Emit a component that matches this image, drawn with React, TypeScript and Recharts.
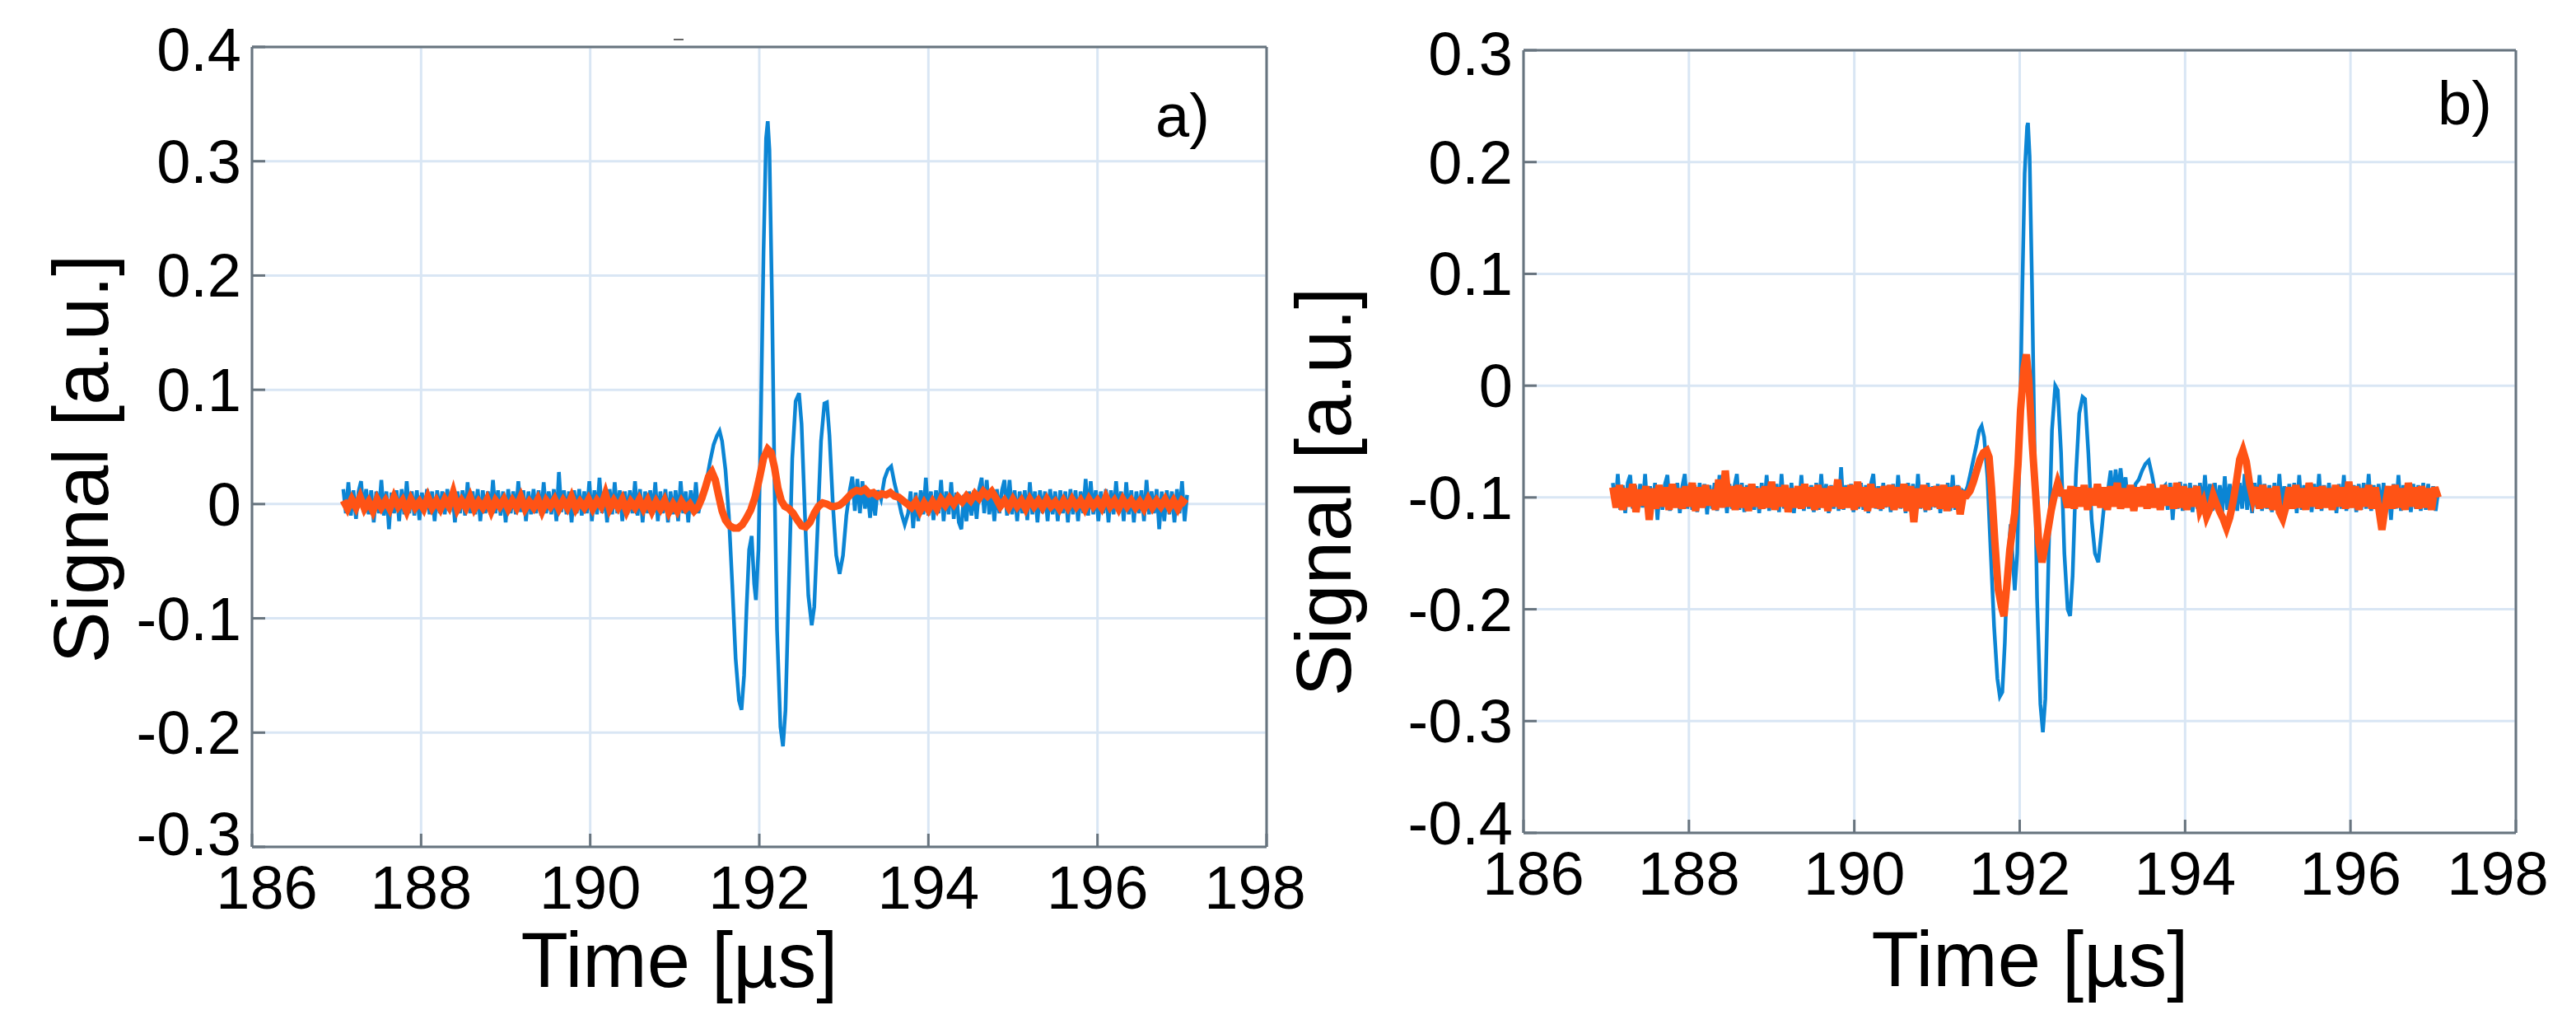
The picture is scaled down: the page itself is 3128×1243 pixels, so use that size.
import React from 'react';
import { LineChart, Line, XAxis, YAxis, CartesianGrid } from 'recharts';

const FONT = "'Liberation Sans', Arial, Helvetica, sans-serif";
const FRAME = '#68747e';
const GRID = '#d9e6f4';
const BLUE = '#0b85d4';
const ORANGE = '#ff5315';
const TICK_FS = 74;
const TITLE_FS = 94;

// ---------- axis ticks ----------
const timeTicks = [186, 188, 190, 192, 194, 196, 198];
const signalTicksA = [-0.3, -0.2, -0.1, 0, 0.1, 0.2, 0.3, 0.4];
const signalTicksB = [-0.4, -0.3, -0.2, -0.1, 0, 0.1, 0.2, 0.3];

// ---------- panel a) ----------
// blue, quiet part before the burst (sampled every 0.03 µs from 187.08 µs)
const blueAPre = [
  0.013, -0.008, 0.019, -0.010, 0.012, -0.013, 0.011, 0.020, -0.007, 0.013, -0.009, 0.012, -0.016, 0.011, -0.008, 0.021, -0.010, 0.011, -0.022, 0.010,
  -0.008, 0.012, -0.015, 0.013, -0.009, 0.020, -0.008, 0.011, -0.010, 0.012, -0.014, 0.010, -0.007, 0.013, -0.009, 0.011, -0.015, 0.012, -0.008, 0.011,
  -0.009, 0.013, -0.007, 0.012, -0.016, 0.011, -0.008, 0.012, -0.010, 0.019, -0.008, 0.011, -0.009, 0.013, -0.015, 0.012, -0.008, 0.011, -0.009, 0.021,
  -0.008, 0.012, -0.010, 0.011, -0.016, 0.013, -0.008, 0.011, -0.009, 0.020, -0.007, 0.012, -0.015, 0.011, -0.009, 0.013, -0.008, 0.012, -0.010, 0.019,
  -0.008, 0.011, -0.009, 0.013, -0.015, 0.028, -0.007, 0.012, -0.009, 0.011, -0.016, 0.012, -0.008, 0.013, -0.010, 0.011, -0.008, 0.020, -0.015, 0.012,
  -0.009, 0.023, -0.008, 0.011, -0.016, 0.013, -0.009, 0.019, -0.008, 0.012, -0.015, 0.011, -0.009, 0.012, -0.008, 0.020, -0.010, 0.013, -0.016, 0.011,
  -0.008, 0.012, -0.009, 0.019, -0.015, 0.011, -0.008, 0.013, -0.016, 0.011, -0.009, 0.012, -0.015, 0.020, -0.008, 0.011, -0.016, 0.012, -0.009, 0.019, -0.008,
];
const blueABurstT = [
  191.31, 191.34, 191.38, 191.42, 191.46, 191.5, 191.53, 191.56, 191.6, 191.64, 191.68, 191.72, 191.76, 191.79, 191.82, 191.85, 191.88, 191.91, 191.94, 191.96,
  191.99, 192.02, 192.05, 192.08, 192.1, 192.12, 192.15, 192.18, 192.21, 192.25, 192.28, 192.31, 192.35, 192.39, 192.43, 192.47, 192.5, 192.54, 192.58, 192.62,
  192.65, 192.69, 192.73, 192.77, 192.8, 192.83, 192.87, 192.91, 192.95, 192.99, 193.03, 193.07, 193.1, 193.13, 193.16, 193.19, 193.22, 193.25, 193.28, 193.31,
  193.34, 193.37, 193.4, 193.44, 193.48, 193.52, 193.56, 193.6, 193.64, 193.68, 193.72,
];
const blueABurstV = [
  0.004, 0.010, 0.022, 0.038, 0.052, 0.060, 0.064, 0.055, 0.030, -0.010, -0.070, -0.135, -0.172, -0.180, -0.150, -0.090, -0.040, -0.028, -0.070, -0.084,
  -0.040, 0.080, 0.220, 0.320, 0.335, 0.310, 0.180, 0.020, -0.110, -0.195, -0.212, -0.180, -0.070, 0.040, 0.090, 0.097, 0.070, -0.010, -0.080, -0.106,
  -0.090, -0.020, 0.055, 0.088, 0.089, 0.060, 0.000, -0.045, -0.061, -0.045, -0.010, 0.012, 0.024, -0.006, 0.022, -0.008, 0.020, -0.004, 0.012, -0.012,
  0.010, -0.010, 0.012, 0.004, 0.022, 0.030, 0.033, 0.018, 0.006, -0.008, -0.018,
];
// blue, quiet part after the burst (every 0.03 µs from 193.76 µs)
const blueAPost = [
  -0.008, 0.011, -0.021, 0.010, -0.015, 0.012, -0.009, 0.023, -0.010, 0.011, -0.014, 0.012, -0.008, 0.021, -0.015, 0.011, -0.009, 0.019, -0.013, 0.010,
  -0.016, -0.022, 0.008, -0.015, 0.011, -0.010, 0.012, -0.013, 0.013, 0.023, -0.008, 0.021, -0.009, 0.011, -0.015, 0.013, -0.008, 0.012, 0.021, -0.010,
  0.021, -0.009, 0.012, -0.015, 0.011, -0.008, 0.012, -0.014, 0.019, -0.009, 0.011, -0.016, 0.012, -0.008, 0.011, -0.015, 0.013, -0.009, 0.011, -0.015,
  0.012, -0.008, 0.011, -0.016, 0.013, -0.009, 0.012, -0.015, 0.011, -0.008, 0.022, -0.010, 0.020, -0.009, 0.012, -0.015, 0.011, -0.008, 0.013, -0.016,
  0.012, -0.009, 0.020, -0.008, 0.011, -0.015, 0.019, -0.009, 0.012, -0.016, 0.011, -0.008, 0.012, -0.015, 0.021, -0.009, 0.011, -0.008, 0.013, -0.022,
  0.011, -0.015, 0.012, -0.009, 0.011, -0.016, 0.013, -0.008, 0.020, -0.015, 0.008,
];
// orange, before the burst (every 0.05 µs from 187.08 µs)
const orangeAPre = [
  0.003, -0.004, 0.004, -0.003, 0.006, -0.004, 0.002, -0.006, 0.004, -0.003, 0.003, -0.004, 0.006, -0.002, 0.003, -0.006, 0.004, -0.003, 0.002, -0.004,
  0.006, -0.003, 0.003, -0.004, 0.004, -0.002, 0.010, -0.004, 0.003, -0.003, 0.006, -0.004, 0.002, -0.003, 0.004, -0.006, 0.003, -0.002, 0.004, -0.004,
  0.003, -0.003, 0.006, -0.004, 0.002, -0.003, 0.004, -0.006, 0.003, -0.002, 0.004, -0.004, 0.003, -0.003, 0.006, -0.004, 0.002, -0.003, 0.004, -0.004,
  0.003, -0.002, 0.009, -0.004, 0.003, -0.003, 0.004, -0.006, 0.002, -0.003, 0.004, -0.004, 0.003, -0.006, 0.002, -0.004, 0.003, -0.007, 0.000, -0.006,
  0.002, -0.004, 0.000, -0.006, -0.002,
];
const orangeABurstT = [
  191.32, 191.36, 191.4, 191.44, 191.48, 191.52, 191.56, 191.6, 191.65, 191.7, 191.75, 191.8, 191.85, 191.9, 191.95, 192.0, 192.05, 192.1, 192.14, 192.18,
  192.22, 192.26, 192.3, 192.35, 192.4, 192.45, 192.5, 192.55, 192.6, 192.65, 192.7, 192.75, 192.8, 192.85, 192.9, 192.95, 193.0, 193.05, 193.1, 193.15,
  193.2, 193.25, 193.3, 193.35, 193.4, 193.45, 193.5, 193.55, 193.6, 193.65, 193.7, 193.75,
];
const orangeABurstV = [
  0.005, 0.014, 0.024, 0.028, 0.021, 0.007, -0.006, -0.014, -0.019, -0.021, -0.021, -0.018, -0.012, -0.005, 0.006, 0.022, 0.040, 0.048, 0.045, 0.032,
  0.014, 0.003, -0.002, -0.004, -0.008, -0.014, -0.019, -0.020, -0.016, -0.008, -0.002, 0.001, 0.000, -0.002, -0.002, -0.001, 0.002, 0.006, 0.010, 0.012,
  0.011, 0.013, 0.009, 0.010, 0.007, 0.009, 0.008, 0.010, 0.007, 0.006, 0.003, 0.000,
];
// orange, after the burst (every 0.05 µs from 193.80 µs)
const orangeAPost = [
  -0.003, 0.002, -0.006, 0.001, -0.005, 0.002, -0.004, 0.004, -0.001, 0.005, 0.000, 0.006, 0.002, 0.007, 0.003, 0.009, 0.005, 0.011, 0.007, 0.011,
  0.005, -0.002, 0.003, -0.003, 0.004, -0.002, 0.003, -0.004, 0.004, -0.002, 0.003, -0.003, 0.004, -0.002, 0.002, -0.004, 0.003, -0.003, 0.004, -0.002,
  0.003, -0.004, 0.004, -0.002, 0.003, -0.003, 0.006, -0.002, 0.003, -0.004, 0.004, -0.002, 0.003, -0.003, 0.002, -0.004, 0.004, -0.003, 0.003, -0.002,
  0.004, -0.003, 0.003, -0.004, 0.003, 0.000,
];

// ---------- panel b) ----------
// blue, before the burst (every 0.03 µs from 187.08 µs)
const blueBPre = [
  -0.087, -0.109, -0.079, -0.111, -0.089, -0.114, -0.087, -0.080, -0.110, -0.089, -0.112, -0.088, -0.109, -0.079, -0.113, -0.090, -0.110, -0.087, -0.120, -0.089,
  -0.111, -0.088, -0.080, -0.112, -0.089, -0.109, -0.087, -0.114, -0.090, -0.079, -0.110, -0.088, -0.111, -0.089, -0.113, -0.087, -0.109, -0.088, -0.115, -0.089,
  -0.110, -0.087, -0.112, -0.080, -0.109, -0.089, -0.114, -0.088, -0.110, -0.090, -0.079, -0.111, -0.087, -0.113, -0.089, -0.109, -0.088, -0.111, -0.090, -0.114,
  -0.087, -0.110, -0.080, -0.112, -0.089, -0.109, -0.088, -0.113, -0.079, -0.110, -0.089, -0.111, -0.087, -0.114, -0.090, -0.109, -0.080, -0.112, -0.088, -0.110,
  -0.089, -0.113, -0.087, -0.111, -0.079, -0.109, -0.088, -0.114, -0.089, -0.110, -0.087, -0.112, -0.073, -0.111, -0.089, -0.109, -0.088, -0.113, -0.090, -0.110,
  -0.087, -0.111, -0.089, -0.114, -0.088, -0.079, -0.110, -0.090, -0.112, -0.087, -0.109, -0.089, -0.113, -0.088, -0.111, -0.080, -0.110, -0.089, -0.114, -0.087,
  -0.109, -0.088, -0.112, -0.079, -0.110, -0.089, -0.113, -0.087, -0.111, -0.090, -0.109, -0.088, -0.114, -0.089, -0.110, -0.087, -0.112, -0.080, -0.111, -0.089,
  -0.109, -0.094,
];
const blueBBurstT = [
  191.34, 191.37, 191.4, 191.44, 191.48, 191.51, 191.54, 191.57, 191.61, 191.65, 191.69, 191.73, 191.76, 191.79, 191.82, 191.85, 191.89, 191.92, 191.94, 191.97,
  192.0, 192.03, 192.06, 192.09, 192.1, 192.12, 192.15, 192.18, 192.21, 192.25, 192.28, 192.31, 192.35, 192.39, 192.43, 192.46, 192.5, 192.54, 192.58, 192.61,
  192.64, 192.68, 192.72, 192.76, 192.79, 192.83, 192.87, 192.91, 192.95, 192.99, 193.03, 193.07, 193.1, 193.13, 193.16, 193.19, 193.22, 193.25, 193.28, 193.31,
  193.34, 193.37, 193.4, 193.44, 193.48, 193.52, 193.56, 193.6, 193.64, 193.68, 193.72,
];
const blueBBurstV = [
  -0.096, -0.090, -0.080, -0.066, -0.052, -0.040, -0.036, -0.046, -0.082, -0.150, -0.215, -0.262, -0.278, -0.274, -0.230, -0.165, -0.124, -0.160, -0.183, -0.150,
  -0.050, 0.080, 0.190, 0.232, 0.235, 0.205, 0.085, -0.060, -0.190, -0.285, -0.310, -0.280, -0.150, -0.040, 0.000, -0.004, -0.060, -0.150, -0.200, -0.206,
  -0.170, -0.080, -0.025, -0.010, -0.012, -0.060, -0.120, -0.150, -0.158, -0.130, -0.100, -0.092, -0.076, -0.104, -0.075, -0.098, -0.074, -0.096, -0.082, -0.106,
  -0.090, -0.108, -0.088, -0.084, -0.076, -0.070, -0.067, -0.080, -0.096, -0.108, -0.092,
];
// blue, after the burst (every 0.03 µs from 193.76 µs)
const blueBPost = [
  -0.089, -0.111, -0.087, -0.120, -0.090, -0.110, -0.086, -0.112, -0.088, -0.109, -0.087, -0.113, -0.089, -0.110, -0.087, -0.111, -0.080, -0.109, -0.088, -0.112,
  -0.087, -0.110, -0.089, -0.113, -0.081, -0.111, -0.088, -0.109, -0.090, -0.112, -0.087, -0.110, -0.079, -0.111, -0.089, -0.114, -0.087, -0.109, -0.080, -0.112,
  -0.088, -0.110, -0.089, -0.113, -0.087, -0.111, -0.079, -0.109, -0.090, -0.112, -0.088, -0.110, -0.087, -0.114, -0.080, -0.111, -0.089, -0.109, -0.087, -0.113,
  -0.088, -0.110, -0.079, -0.112, -0.089, -0.109, -0.087, -0.111, -0.090, -0.114, -0.088, -0.110, -0.080, -0.112, -0.087, -0.109, -0.089, -0.113, -0.088, -0.111,
  -0.087, -0.110, -0.079, -0.112, -0.089, -0.109, -0.088, -0.113, -0.087, -0.111, -0.090, -0.120, -0.088, -0.110, -0.080, -0.112, -0.089, -0.109, -0.087, -0.113,
  -0.088, -0.110, -0.089, -0.112, -0.087, -0.111, -0.088, -0.109, -0.090, -0.112, -0.095,
];
// orange, before the burst (every 0.04 µs from 187.08 µs)
const orangeBPre = [
  -0.091, -0.109, -0.089, -0.111, -0.092, -0.108, -0.088, -0.113, -0.093, -0.107, -0.090, -0.120, -0.092, -0.110, -0.089, -0.108, -0.091, -0.111, -0.088, -0.109,
  -0.092, -0.110, -0.090, -0.108, -0.087, -0.112, -0.091, -0.109, -0.089, -0.107, -0.093, -0.111, -0.084, -0.109, -0.076, -0.108, -0.090, -0.111, -0.089, -0.109,
  -0.091, -0.112, -0.088, -0.108, -0.092, -0.110, -0.090, -0.109, -0.086, -0.111, -0.091, -0.108, -0.089, -0.113, -0.092, -0.109, -0.090, -0.110, -0.088, -0.108,
  -0.091, -0.111, -0.089, -0.109, -0.092, -0.112, -0.090, -0.108, -0.084, -0.110, -0.091, -0.109, -0.089, -0.111, -0.086, -0.108, -0.091, -0.112, -0.088, -0.109,
  -0.092, -0.110, -0.090, -0.108, -0.089, -0.111, -0.091, -0.109, -0.088, -0.112, -0.090, -0.122, -0.092, -0.109, -0.089, -0.111, -0.091, -0.108, -0.090, -0.110,
  -0.089, -0.112, -0.091, -0.109, -0.090, -0.115, -0.097,
];
const orangeBBurstT = [
  191.36, 191.4, 191.44, 191.48, 191.52, 191.56, 191.6, 191.63, 191.66, 191.7, 191.74, 191.78, 191.81, 191.84, 191.88, 191.91, 191.94, 191.98, 192.01, 192.05,
  192.08, 192.11, 192.15, 192.19, 192.23, 192.27, 192.3, 192.34, 192.38, 192.42, 192.46, 192.5,
];
const orangeBBurstV = [
  -0.098, -0.094, -0.086, -0.076, -0.066, -0.060, -0.058, -0.064, -0.092, -0.140, -0.182, -0.198, -0.206, -0.182, -0.147, -0.130, -0.114, -0.070, -0.022, 0.015,
  0.028, 0.005, -0.050, -0.094, -0.140, -0.158, -0.146, -0.130, -0.112, -0.098, -0.087, -0.096,
];
// orange, after the burst (every 0.04 µs from 192.54 µs)
const orangeBPost = [
  -0.096, -0.109, -0.090, -0.110, -0.091, -0.108, -0.089, -0.111, -0.092, -0.107, -0.088, -0.109, -0.091, -0.111, -0.090, -0.108, -0.087, -0.110, -0.092, -0.109,
  -0.089, -0.112, -0.091, -0.108, -0.090, -0.110, -0.088, -0.109, -0.092, -0.111, -0.089, -0.107, -0.091, -0.110, -0.087, -0.109, -0.090, -0.111, -0.092, -0.108,
  -0.090, -0.111, -0.104, -0.117, -0.110, -0.098, -0.106, -0.113, -0.119, -0.127, -0.118, -0.104, -0.086, -0.066, -0.058, -0.068, -0.088, -0.101, -0.091, -0.110,
  -0.089, -0.109, -0.092, -0.111, -0.090, -0.113, -0.119, -0.108, -0.091, -0.110, -0.089, -0.109, -0.092, -0.111, -0.087, -0.108, -0.091, -0.110, -0.090, -0.109,
  -0.092, -0.111, -0.089, -0.108, -0.091, -0.110, -0.086, -0.109, -0.090, -0.111, -0.092, -0.108, -0.089, -0.110, -0.091, -0.109, -0.129, -0.108, -0.090, -0.110,
  -0.089, -0.109, -0.092, -0.111, -0.087, -0.108, -0.091, -0.110, -0.090, -0.109, -0.092, -0.111, -0.091, -0.100,
];

// ---------- build series tables ----------
type Pt = { t: number; v: number };
const sampled = (t0: number, dt: number, vals: number[]): Pt[] =>
  vals.map((v, i) => ({ t: Math.round((t0 + dt * i) * 1000) / 1000, v }));
const paired = (ts: number[], vs: number[]): Pt[] => ts.map((t, i) => ({ t, v: vs[i] }));

const blueA: Pt[] = [...sampled(187.08, 0.03, blueAPre), ...paired(blueABurstT, blueABurstV), ...sampled(193.76, 0.03, blueAPost)];
const orangeA: Pt[] = [...sampled(187.08, 0.05, orangeAPre), ...paired(orangeABurstT, orangeABurstV), ...sampled(193.8, 0.05, orangeAPost)];
const blueB: Pt[] = [...sampled(187.08, 0.03, blueBPre), ...paired(blueBBurstT, blueBBurstV), ...sampled(193.76, 0.03, blueBPost)];
const orangeB: Pt[] = [...sampled(187.08, 0.04, orangeBPre), ...paired(orangeBBurstT, orangeBBurstV), ...sampled(192.54, 0.04, orangeBPost)];

interface PanelCfg {
  left: number;
  width: number;
  top: number;
  right: number;
  yAxisWidth: number;
  xAxisHeight: number;
  yDomain: [number, number];
  yTicks: number[];
  blue: Pt[];
  orange: Pt[];
  xEndShift: [number, number];
  yEndShift: [number, number];
  xTitle: { x: number; y: number };
  yTitle: { x: number; y: number };
}

const frameLine = { stroke: FRAME, strokeWidth: 3 };

function Panel({ cfg }: { cfg: PanelCfg }) {
  const [yMin, yMax] = cfg.yDomain;
  const xTick = (props: any) => {
    const { x, y, payload } = props;
    const v = payload.value;
    const dx = v === 186 ? cfg.xEndShift[0] : v === 198 ? cfg.xEndShift[1] : 0;
    return (
      <g>
        <line x1={x} x2={x} y1={y} y2={y - 16} stroke={FRAME} strokeWidth={3} />
        <text x={x + dx} y={y + 75} textAnchor="middle" fontSize={TICK_FS} fontFamily={FONT} fill="#000">
          {String(v)}
        </text>
      </g>
    );
  };
  const yTick = (props: any) => {
    const { x, y, payload } = props;
    const v = payload.value;
    const dy = Math.abs(v - yMin) < 1e-9 ? cfg.yEndShift[0] : Math.abs(v - yMax) < 1e-9 ? cfg.yEndShift[1] : 0;
    return (
      <g>
        <line x1={x} x2={x + 16} y1={y} y2={y} stroke={FRAME} strokeWidth={3} />
        <text x={x - 13} y={y + dy + 26} textAnchor="end" fontSize={TICK_FS} fontFamily={FONT} fill="#000">
          {String(v)}
        </text>
      </g>
    );
  };
  const xTitle = () => (
    <text x={cfg.xTitle.x} y={cfg.xTitle.y} textAnchor="middle" fontSize={TITLE_FS} fontFamily={FONT} fill="#000">
      Time [µs]
    </text>
  );
  const yTitle = () => (
    <text
      x={cfg.yTitle.x}
      y={cfg.yTitle.y}
      transform={`rotate(-90 ${cfg.yTitle.x} ${cfg.yTitle.y})`}
      textAnchor="middle"
      fontSize={TITLE_FS}
      fontFamily={FONT}
      fill="#000"
    >
      Signal [a.u.]
    </text>
  );
  return (
    <div style={{ position: 'absolute', left: cfg.left, top: 0 }}>
      <LineChart width={cfg.width} height={1243} margin={{ top: cfg.top, right: cfg.right, bottom: 0, left: 0 }}>
        <CartesianGrid stroke={GRID} strokeWidth={3} />
        <XAxis
          dataKey="t"
          type="number"
          domain={[186, 198]}
          ticks={timeTicks}
          allowDataOverflow
          interval={0}
          height={cfg.xAxisHeight}
          tickSize={0}
          tickMargin={0}
          tickLine={false}
          axisLine={frameLine}
          tick={xTick}
          label={xTitle}
        />
        <XAxis
          xAxisId="top"
          orientation="top"
          mirror
          dataKey="t"
          type="number"
          domain={[186, 198]}
          ticks={timeTicks}
          allowDataOverflow
          interval={0}
          tickSize={16}
          tick={false}
          tickLine={frameLine}
          axisLine={frameLine}
        />
        <YAxis
          type="number"
          domain={cfg.yDomain}
          ticks={cfg.yTicks}
          allowDataOverflow
          interval={0}
          width={cfg.yAxisWidth}
          tickSize={0}
          tickMargin={0}
          tickLine={false}
          axisLine={frameLine}
          tick={yTick}
          label={yTitle}
        />
        <YAxis
          yAxisId="right"
          orientation="right"
          mirror
          type="number"
          domain={cfg.yDomain}
          ticks={cfg.yTicks}
          allowDataOverflow
          interval={0}
          tickSize={16}
          tick={false}
          tickLine={frameLine}
          axisLine={frameLine}
        />
        <Line data={cfg.blue} dataKey="v" type="linear" stroke={BLUE} strokeWidth={4.5} dot={false} isAnimationActive={false} />
        <Line data={cfg.orange} dataKey="v" type="linear" stroke={ORANGE} strokeWidth={9} dot={false} isAnimationActive={false} />
      </LineChart>
    </div>
  );
}

const panelA: PanelCfg = {
  left: 0,
  width: 1620,
  top: 57,
  right: 82,
  yAxisWidth: 306,
  xAxisHeight: 215,
  yDomain: [-0.3, 0.4],
  yTicks: signalTicksA,
  blue: blueA,
  orange: orangeA,
  xEndShift: [18, -14],
  yEndShift: [-16, 3],
  xTitle: { x: 825, y: 1198 },
  yTitle: { x: 131, y: 557 },
};

const panelB: PanelCfg = {
  left: 1540,
  width: 1588,
  top: 61,
  right: 73,
  yAxisWidth: 310,
  xAxisHeight: 232,
  yDomain: [-0.4, 0.3],
  yTicks: signalTicksB,
  blue: blueB,
  orange: orangeB,
  xEndShift: [12, -22],
  yEndShift: [-12, 4],
  xTitle: { x: 925, y: 1197 },
  yTitle: { x: 100, y: 597 },
};

export default function App() {
  return (
    <div style={{ position: 'absolute', left: 0, top: 0, width: 3128, height: 1243, background: '#fff', overflow: 'hidden' }}>
      <Panel cfg={panelA} />
      <Panel cfg={panelB} />
      <svg width={3128} height={1243} style={{ position: 'absolute', left: 0, top: 0, pointerEvents: 'none' }}>
        <text x={1403} y={166} fontSize={74} fontFamily={FONT} fill="#000">a)</text>
        <text x={2960} y={151} fontSize={74} fontFamily={FONT} fill="#000">b)</text>
        <line x1={818} x2={830} y1={48} y2={48} stroke="#666" strokeWidth={2} />
      </svg>
    </div>
  );
}
